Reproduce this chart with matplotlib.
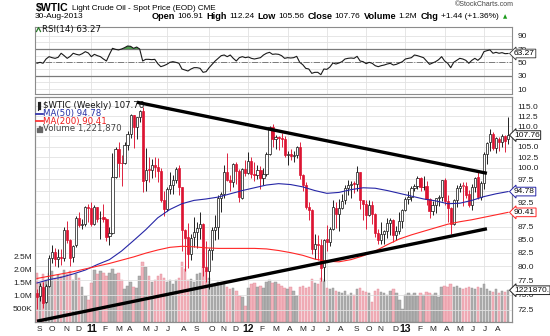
import numpy as np
import pandas as pd
import matplotlib
matplotlib.use('Agg')
import matplotlib.pyplot as plt
import matplotlib.transforms as mtransforms
from matplotlib.ticker import FixedLocator, NullLocator, FixedFormatter
from matplotlib.lines import Line2D
from matplotlib.patches import Rectangle

plt.rcParams['font.family'] = ['Liberation Sans', 'DejaVu Sans']

# weekly $WTIC bars, first week ends 3-Sep-2010
opens = [
    75.20, 74.70, 76.30, 73.80, 76.50, 81.50, 82.70, 81.30, 81.70, 81.50,
    86.90, 84.90, 81.60, 83.90, 89.20, 87.80, 88.00, 91.40, 91.40, 88.10,
    91.50, 89.20, 89.40, 89.10, 85.60, 86.30, 97.90, 104.40, 101.20, 101.10,
    105.40, 108.00, 112.70, 109.70, 112.30, 113.90, 97.20, 99.70, 99.50, 100.60,
    100.20, 99.30, 93.00, 91.20, 95.40, 96.20, 97.20, 99.90, 95.70, 86.90,
    85.40, 82.30, 85.40, 86.50, 87.20, 88.00, 79.90, 79.20, 83.00, 86.80,
    87.40, 93.30, 94.30, 99.00, 97.40, 96.80, 101.00, 99.40, 93.50, 99.70,
    98.80, 101.60, 98.70, 98.50, 99.60, 97.80, 98.70, 103.20, 109.80, 106.70,
    107.40, 107.10, 106.90, 103.00, 103.30, 102.80, 103.10, 104.90, 98.50, 96.10,
    91.50, 90.90, 83.20, 84.10, 84.00, 79.80, 85.00, 84.50, 87.10, 91.40,
    90.10, 91.40, 92.90, 95.60, 96.20, 96.50, 96.40, 99.00, 92.90, 92.20,
    89.90, 91.90, 90.10, 86.30, 84.90, 86.10, 86.70, 88.30, 88.90, 85.90,
    86.70, 88.70, 90.80, 93.10, 93.60, 95.60, 95.90, 97.80, 95.70, 95.90,
    93.10, 90.70, 92.00, 93.50, 93.70, 97.20, 92.70, 91.30, 88.00, 93.00,
    95.60, 96.00, 96.00, 94.20, 92.00, 95.80, 97.90, 93.70, 96.60, 103.20,
    106.00, 108.10, 104.70, 106.90, 106.00, 107.50, 106.91]
highs = [
    76.0, 77.0, 77.2, 76.9, 82.0, 84.0, 83.3, 83.1, 83.2, 87.5,
    88.6, 85.0, 84.0, 89.6, 90.4, 89.1, 91.8, 92.1, 92.6, 92.0,
    91.6, 90.7, 92.2, 89.2, 87.5, 103.4, 104.9, 106.0, 103.0, 106.0,
    108.8, 113.0, 112.8, 112.4, 114.2, 114.8, 104.6, 102.5, 102.0, 102.6,
    102.4, 100.0, 95.0, 95.8, 99.0, 98.4, 100.2, 100.6, 95.8, 87.0,
    88.2, 86.0, 89.5, 88.5, 90.5, 88.2, 84.7, 83.4, 87.5, 89.8,
    94.0, 94.7, 100.6, 103.4, 98.4, 101.2, 101.4, 99.8, 99.9, 101.8,
    103.7, 102.5, 101.3, 100.6, 100.5, 100.0, 103.8, 110.0, 110.5, 107.9,
    107.5, 108.2, 107.6, 104.0, 104.5, 104.0, 105.2, 106.2, 98.6, 96.9,
    92.5, 91.1, 86.0, 85.8, 85.0, 85.0, 87.9, 87.4, 92.9, 92.5,
    93.1, 94.3, 96.2, 97.3, 97.0, 97.0, 100.4, 99.1, 93.0, 92.9,
    93.0, 92.8, 90.3, 87.0, 88.5, 86.9, 89.3, 89.3, 89.0, 87.6,
    90.5, 91.2, 93.7, 94.8, 96.0, 96.4, 98.2, 97.9, 98.2, 97.0,
    93.3, 92.7, 93.5, 94.0, 97.4, 97.8, 94.0, 91.5, 93.2, 96.1,
    96.7, 96.8, 96.8, 95.1, 96.4, 98.0, 99.0, 97.0, 103.6, 106.2,
    109.3, 108.5, 107.3, 107.3, 108.0, 107.8, 112.24]
lows = [
    72.6, 73.9, 72.8, 73.5, 76.3, 80.6, 80.0, 79.8, 80.3, 81.0,
    84.4, 80.0, 80.8, 83.5, 87.5, 87.0, 87.7, 88.5, 87.6, 87.8,
    88.4, 85.1, 88.5, 84.7, 84.0, 86.0, 97.8, 98.0, 96.0, 100.9,
    104.1, 107.0, 104.6, 106.7, 111.1, 94.6, 95.0, 96.9, 97.8, 98.0,
    96.8, 92.6, 89.6, 90.6, 94.2, 94.3, 96.6, 94.1, 82.9, 79.2,
    79.6, 81.2, 83.5, 83.3, 85.0, 78.3, 77.1, 76.0, 81.2, 84.9,
    85.0, 90.4, 93.5, 97.0, 95.0, 95.8, 96.4, 92.5, 93.2, 98.2,
    98.7, 97.8, 97.1, 97.5, 95.4, 96.2, 98.2, 103.0, 105.0, 104.3,
    104.2, 104.9, 102.6, 100.7, 101.8, 101.3, 102.3, 97.5, 95.0, 91.1,
    88.8, 82.3, 81.3, 81.2, 77.3, 77.3, 82.8, 83.7, 86.8, 87.3,
    86.7, 91.0, 92.2, 94.0, 93.4, 94.5, 94.9, 91.2, 88.9, 87.0,
    89.7, 88.1, 85.4, 84.1, 84.1, 84.1, 85.2, 85.9, 84.6, 84.9,
    86.0, 87.3, 90.6, 92.2, 92.8, 94.8, 95.4, 95.0, 95.1, 92.0,
    89.3, 89.8, 90.3, 91.7, 92.7, 92.0, 88.4, 86.1, 87.8, 91.5,
    94.6, 91.7, 93.3, 91.5, 90.9, 94.6, 93.2, 93.0, 95.3, 100.9,
    104.0, 104.2, 103.5, 104.0, 104.9, 103.7, 105.56]
closes = [
    74.60, 76.45, 73.66, 76.49, 81.58, 82.66, 81.25, 81.69, 81.43, 86.85,
    84.88, 81.51, 83.76, 89.19, 87.79, 88.02, 91.51, 91.38, 88.03, 91.54,
    89.11, 89.34, 89.03, 85.58, 86.20, 97.88, 104.42, 101.16, 101.07, 105.40,
    107.94, 112.79, 109.66, 112.29, 113.93, 97.18, 99.65, 99.49, 100.59, 100.22,
    99.29, 93.01, 91.16, 95.42, 96.20, 97.24, 99.87, 95.70, 86.88, 85.38,
    82.26, 85.37, 86.45, 87.24, 87.96, 79.85, 79.20, 82.98, 86.80, 87.40,
    93.32, 94.26, 98.99, 97.41, 96.77, 100.96, 99.41, 93.53, 99.68, 98.83,
    101.56, 98.70, 98.46, 99.56, 97.84, 98.67, 103.24, 109.77, 106.70, 107.40,
    107.06, 106.87, 103.02, 103.31, 102.83, 103.05, 104.93, 98.49, 96.13, 91.48,
    90.86, 83.23, 84.10, 84.03, 79.76, 84.96, 84.45, 87.10, 91.44, 90.13,
    91.40, 92.87, 95.60, 96.15, 96.47, 96.42, 99.00, 92.89, 92.19, 89.88,
    91.86, 90.05, 86.28, 84.86, 86.07, 86.67, 88.28, 88.91, 85.93, 86.73,
    88.66, 90.80, 93.09, 93.56, 95.56, 95.88, 97.77, 95.72, 95.86, 93.13,
    90.68, 91.95, 93.45, 93.71, 97.23, 92.70, 91.29, 88.01, 93.00, 95.61,
    96.04, 96.02, 94.15, 91.97, 95.77, 97.85, 93.69, 96.56, 103.22, 105.95,
    108.05, 104.70, 106.94, 106.03, 107.46, 106.32, 107.76]
volume_m = [
    1.90, 1.50, 1.85, 1.60, 1.90, 1.95, 1.70, 1.80, 1.75, 2.00,
    1.85, 1.95, 1.60, 1.85, 1.70, 1.35, 1.00, 0.85, 1.50, 2.00,
    1.85, 1.95, 1.90, 1.75, 1.90, 2.05, 1.85, 1.90, 1.60, 1.25,
    1.40, 1.55, 1.35, 1.30, 1.75, 2.30, 2.10, 1.75, 1.55, 1.60,
    1.75, 1.85, 1.70, 1.55, 1.60, 1.45, 1.60, 1.70, 2.30, 2.05,
    1.60, 1.65, 1.55, 1.85, 1.90, 2.10, 1.95, 1.70, 1.45, 1.40,
    1.55, 1.50, 1.55, 1.35, 1.25, 1.30, 1.20, 1.00, 0.95, 0.60,
    1.30, 1.45, 1.50, 1.35, 1.40, 1.30, 1.55, 1.60, 1.50, 1.55,
    1.45, 1.40, 1.30, 1.25, 1.35, 1.20, 1.00, 1.35, 1.40, 1.30,
    1.35, 1.65, 1.50, 1.45, 1.70, 1.60, 1.30, 1.25, 1.30, 1.20,
    1.15, 1.10, 1.20, 1.05, 1.10, 1.05, 1.25, 1.30, 1.20, 1.15,
    1.10, 0.75, 1.20, 1.25, 1.15, 1.10, 1.05, 1.20, 1.25, 1.10,
    0.85, 0.50, 1.05, 1.10, 1.05, 1.10, 1.00, 1.10, 1.05, 1.15,
    1.10, 1.05, 1.10, 0.95, 1.35, 1.40, 1.35, 1.45, 1.35, 1.40,
    1.30, 1.25, 1.30, 1.35, 1.30, 1.25, 1.35, 1.30, 1.45, 1.25,
    1.20, 1.15, 1.25, 1.10, 1.20, 1.15, 1.22187]
rsi14 = [
    48.6, 50.0, 48.6, 55.0, 58.5, 57.0, 56.0, 57.5, 63.6, 60.0,
    56.0, 59.0, 63.6, 62.0, 61.0, 63.0, 66.0, 64.0, 58.5, 62.0,
    60.0, 58.5, 55.0, 52.0, 62.0, 71.0, 69.5, 68.6, 70.0, 72.0,
    74.5, 74.0, 71.0, 73.0, 70.0, 52.0, 54.5, 54.5, 54.0, 54.5,
    48.0, 43.5, 45.0, 47.0, 50.0, 51.0, 50.0, 48.6, 40.0, 38.5,
    37.0, 40.0, 42.0, 42.0, 41.0, 35.0, 36.0, 42.0, 47.0, 52.0,
    56.0, 60.0, 61.0, 58.5, 61.0, 56.0, 52.0, 57.0, 58.5, 57.0,
    58.0, 56.0, 55.0, 56.0, 57.0, 61.0, 63.6, 65.0, 62.0, 62.5,
    62.0, 60.0, 56.0, 57.0, 56.5, 57.0, 59.0, 50.0, 46.5, 41.0,
    40.0, 33.5, 35.0, 35.0, 31.5, 40.0, 39.5, 43.0, 49.0, 47.5,
    49.0, 51.0, 55.0, 56.0, 56.5, 56.0, 59.0, 52.0, 51.0, 48.0,
    50.0, 48.5, 45.0, 43.5, 45.0, 46.0, 47.5, 48.5, 46.0, 47.0,
    49.0, 51.0, 55.0, 56.0, 57.0, 61.0, 60.0, 58.5, 57.0, 52.0,
    47.0, 49.0, 51.0, 54.0, 58.5, 52.0, 48.6, 42.0, 50.0, 53.0,
    56.0, 55.0, 53.0, 48.6, 53.0, 56.0, 53.0, 57.0, 66.0, 67.5,
    68.6, 63.6, 65.0, 63.6, 64.5, 63.0, 63.27]
# moving averages read every 4th week
ma_weeks = list(range(0, 157, 4))
ma50 = [
    77.0, 77.6, 78.0, 78.6, 79.3, 80.3, 81.2, 82.8, 84.8, 86.9,
    89.3, 91.0, 92.2, 92.9, 93.2, 93.6, 94.3, 95.0, 95.6, 96.2,
    96.5, 96.3, 95.8, 95.0, 94.4, 94.6, 95.2, 95.6, 95.5, 95.0,
    94.4, 93.8, 93.2, 92.8, 92.2, 92.3, 92.9, 93.7, 94.3, 94.78]
ma200 = [
    77.8, 78.2, 78.6, 79.0, 79.5, 80.0, 80.5, 81.1, 81.7, 82.4,
    83.0, 83.5, 83.7, 83.6, 83.4, 83.3, 83.3, 83.3, 83.3, 83.2,
    82.9, 82.5, 82.0, 81.3, 80.9, 80.8, 81.2, 81.9, 82.8, 84.0,
    85.1, 85.9, 86.6, 87.3, 88.0, 88.5, 88.9, 89.4, 89.9, 90.41]
# hand-drawn trendlines: (week index, price)
upper_week, upper_px = [33.1, 149.0], [116.1, 98.8]
lower_week, lower_px = [0.0, 149.0], [70.6, 87.1]
price_ticks = [72.5, 75.0, 77.5, 80.0, 82.5, 85.0, 87.5, 90.0, 92.5, 95.0,
               97.5, 100.0, 102.5, 105.0, 107.5, 110.0, 112.5, 115.0]
hidden_ticks = [90.0, 95.0, 107.5]   # covered by the value tags
vol_ticks = [0.5e6, 1.0e6, 1.5e6, 2.0e6, 2.5e6]
vol_labels = ['500K', '1.0M', '1.5M', '2.0M', '2.5M']
rsi_ticks = [10, 30, 50, 70, 90]
header = [('Open', True), ('106.91', False), ('High', True), ('112.24', False),
          ('Low', True), ('105.56', False), ('Close', True), ('107.76', False),
          ('Volume', True), ('1.2M', False), ('Chg', True), ('+1.44 (+1.36%)', False)]

n = len(closes)
idx = np.arange(n)
weeks = pd.date_range('2010-09-03', periods=n, freq='W-FRI')

W, H = 550, 336
fig = plt.figure(figsize=(W / 100, H / 100), dpi=100)
fig.patch.set_facecolor('white')


def fx(x):
    return x / W


def fy(y):
    return 1 - y / H


L, R = 35, 512
ax_rsi = fig.add_axes([fx(L), fy(94), (R - L) / W, (94 - 27) / H])
ax_vol = fig.add_axes([fx(L), fy(322), (R - L) / W, (322 - 97) / H])
ax = ax_vol.twinx()

grid_c = '#e2e2e2'
spine_c = '#8c8c8c'
xlim = (-0.66, 157.3)

month_starts = [0] + [i for i in range(1, n) if weeks[i].month != weeks[i - 1].month]
quarters = [i for i in month_starts if weeks[i].month in (1, 4, 7, 10)]

# ---- RSI panel
r = np.array(rsi14)
for lv in range(10, 100, 10):
    ax_rsi.axhline(lv, color=grid_c, lw=0.6, zorder=0)
for q in quarters:
    ax_rsi.axvline(q, color=grid_c, lw=0.6, zorder=0)
ax_rsi.axhline(70, color='#7a7a7a', lw=0.9, zorder=1)
ax_rsi.axhline(30, color='#7a7a7a', lw=0.9, zorder=1)
ax_rsi.axhline(50, color='#7a7a7a', lw=0.7, ls='-.', zorder=1)
ax_rsi.fill_between(idx, 70, r, where=r >= 70, interpolate=True, color='#4c9a4c', lw=0, zorder=2)
ax_rsi.plot(idx, r, color='#1a1a1a', lw=0.8, zorder=3)
ax_rsi.set_xlim(*xlim)
ax_rsi.set_ylim(2.5, 103)
ax_rsi.set_xticks([])
ax_rsi.yaxis.tick_right()
ax_rsi.set_yticks(rsi_ticks)
ax_rsi.tick_params(axis='y', length=0, pad=4, labelsize=6, labelcolor='#222222')
ax_rsi.annotate('%.2f' % rsi14[-1], xy=(1, rsi14[-1]), xycoords=ax_rsi.get_yaxis_transform(),
                xytext=(1.5, 0), textcoords='offset points', ha='left', va='center', fontsize=6,
                bbox=dict(boxstyle='larrow,pad=0.1', fc='white', ec='#333333', lw=0.6),
                annotation_clip=False, zorder=10)

# ---- volume (underneath)
c = np.array(closes)
o = np.array(opens)
prev = np.concatenate([[o[0]], c[:-1]])
down = c < prev
vol_face = np.where(down, '#f2b3bc', '#b0b0b0')
vol_edge = np.where(down, '#e48a98', '#8e8e8e')
ax_vol.bar(idx, np.array(volume_m) * 1e6, width=0.8, color=vol_face, edgecolor=vol_edge,
           lw=0.3, zorder=2)
for q in quarters:
    ax_vol.axvline(q, color=grid_c, lw=0.6, zorder=0)
ax_vol.set_ylim(0, 8.65e6)
ax_vol.set_xlim(*xlim)
ax_vol.set_yticks(vol_ticks)
ax_vol.set_yticklabels(vol_labels)
ax_vol.set_xticks([])
ax_vol.tick_params(axis='y', length=0, pad=2, labelsize=6, labelcolor='#222222')

trans = mtransforms.blended_transform_factory(ax_vol.transData, ax_vol.transAxes)
for i in month_starts:
    d = weeks[i]
    if d.month == 1:
        ax_vol.text(i, -0.008, d.strftime('%y'), transform=trans, ha='center', va='top',
                    fontsize=7.5, fontweight='bold', color='#111111')
    else:
        ax_vol.text(i - 0.2, -0.016, 'JFMAMJJASOND'[d.month - 1], transform=trans,
                    ha='left', va='top', fontsize=6, color='#222222')

# ---- price panel
hi = np.array(highs)
lo = np.array(lows)
col = np.where(down, '#dc1432', '#111111')
face = [cc if f else 'white' for cc, f in zip(col, c < o)]
ax.vlines(idx, lo, hi, colors=col, lw=0.65, zorder=3)
ax.bar(idx, np.maximum(np.abs(c - o), 0.12), bottom=np.minimum(o, c), width=0.72,
       color=face, edgecolor=col, lw=0.5, zorder=4)
ax.plot(ma_weeks, ma50, color='#2626a6', lw=0.8, zorder=5)
ax.plot(ma_weeks, ma200, color='#ff2626', lw=0.8, zorder=5)
ax.plot(upper_week, upper_px, color='black', lw=2.4, solid_capstyle='butt', zorder=6)
ax.plot(lower_week, lower_px, color='black', lw=2.4, solid_capstyle='butt', zorder=6)

ax.set_yscale('log')
ax.set_ylim(70.47, 117.5)
ax.set_xlim(*xlim)
ax.yaxis.set_major_locator(FixedLocator(price_ticks))
ax.yaxis.set_minor_locator(NullLocator())
ax.yaxis.set_major_formatter(FixedFormatter(
    ['' if t in hidden_ticks else '%.1f' % t for t in price_ticks]))
ax.tick_params(axis='y', length=0, pad=4, labelsize=6, labelcolor='#222222')
ax.grid(axis='y', color=grid_c, lw=0.6)
ax.set_axisbelow(True)

ax.text(455, 111.0, 'Breakout', ha='center', va='center', fontsize=7.2, fontstyle='italic',
        fontweight='bold', color='#0c1c5a', family='DejaVu Sans', zorder=7)


def tag(val, text, ec, tr):
    ax.annotate(text, xy=(1, val), xycoords=tr, xytext=(1.5, 0), textcoords='offset points',
                ha='left', va='center', fontsize=6, color='#111111',
                bbox=dict(boxstyle='larrow,pad=0.1', fc='white', ec=ec, lw=0.7),
                annotation_clip=False, zorder=10)


ytr = ax.get_yaxis_transform()
tag(closes[-1], '%.2f' % closes[-1], '#222222', ytr)
tag(ma50[-1], '%.2f' % ma50[-1], '#2626a6', ytr)
tag(ma200[-1], '%.2f' % ma200[-1], '#ff2626', ytr)
vtr = mtransforms.blended_transform_factory(ax.transAxes, ax_vol.transData)
tag(volume_m[-1] * 1e6, '%d.' % round(volume_m[-1] * 1e6), '#222222', vtr)

for a in (ax_rsi, ax_vol, ax):
    for s in a.spines.values():
        s.set_color(spine_c)
        s.set_linewidth(0.8)

# ---- legends inside panels
lg = dict(fontsize=6.2, family='DejaVu Sans', va='center')
fig.add_artist(Line2D([fx(37.5), fx(37.5)], [fy(102), fy(110)], color='#222222', lw=0.8))
fig.add_artist(Line2D([fx(40), fx(40)], [fy(103), fy(109)], color='#222222', lw=1.6))
fig.text(fx(43), fy(106), '$WTIC (Weekly) %.2f' % closes[-1], color='#111111', **lg)
fig.add_artist(Line2D([fx(36), fx(42.5)], [fy(113.5), fy(113.5)], color='#2626a6', lw=1.2))
fig.text(fx(43), fy(113.5), 'MA(50) %.2f' % ma50[-1], color='#2630a6', **lg)
fig.add_artist(Line2D([fx(36), fx(42.5)], [fy(121.5), fy(121.5)], color='#ff2626', lw=1.2))
fig.text(fx(43), fy(121.5), 'MA(200) %.2f' % ma200[-1], color='#ee1a1a', **lg)
for bx, bh in [(36.5, 4), (38.5, 6), (40.5, 5)]:
    fig.add_artist(Rectangle((fx(bx), fy(132)), 1.3 / W, bh / H, color='#666666'))
fig.text(fx(43), fy(129), 'Volume {:,}'.format(round(volume_m[-1] * 1e6)), color='#444444', **lg)

fig.add_artist(Line2D([fx(36.5), fx(38.5), fx(40.5)], [fy(31.5), fy(27.5), fy(31.5)],
                      color='#2a7a2a', lw=0.9))
fig.text(fx(42), fy(29.5), 'RSI(14) %.2f' % rsi14[-1], color='#111111', **lg)

# ---- header
fig.text(fx(36), fy(8.5), '$WTIC', fontsize=7.6, fontweight='bold', va='center')
fig.text(fx(72), fy(9), 'Light Crude Oil - Spot Price (EOD) CME', fontsize=5.9, va='center')
fig.text(fx(514), fy(5), '\u00a9StockCharts.com', fontsize=5.0, va='center', ha='right',
         color='#444444')
fig.text(fx(35), fy(16.5), '30-Aug-2013', fontsize=6.0, va='center')

renderer = fig.canvas.get_renderer()
hx = 152
for txt, bold in header:
    t = fig.text(fx(hx), fy(16.5), txt, fontsize=6.6 if bold else 6.0, va='center',
                 fontweight='bold' if bold else 'normal')
    hx += t.get_window_extent(renderer).width + (2 if bold else 3.5)
fig.text(fx(hx + 1), fy(16.5), '\u25b2', fontsize=4, va='center', color='#1a9a1a',
         family='DejaVu Sans')

fig.savefig('out.png', dpi=100)
